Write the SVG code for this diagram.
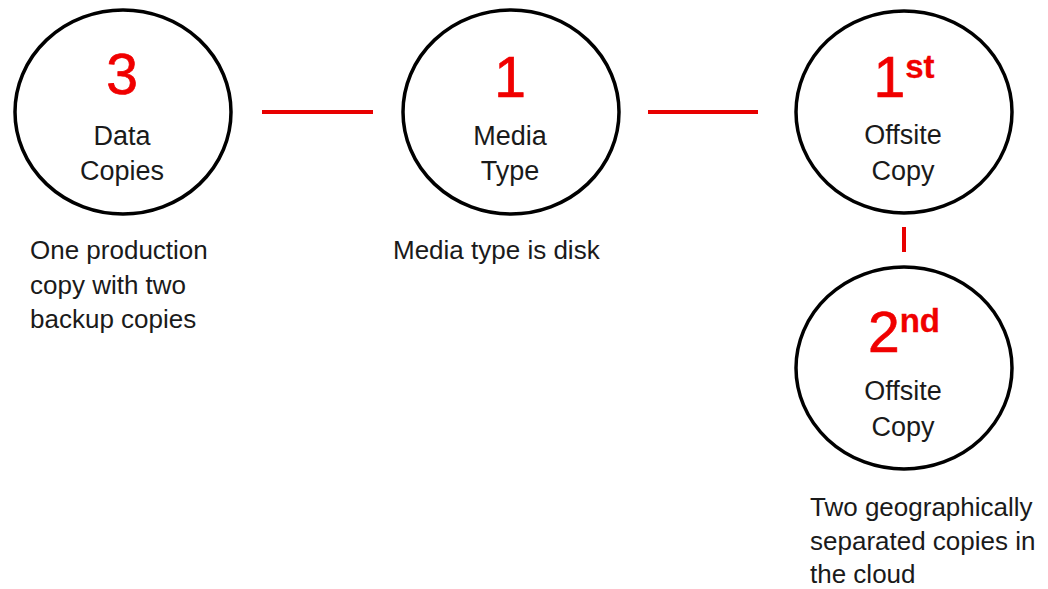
<svg xmlns="http://www.w3.org/2000/svg" width="1048" height="589" viewBox="0 0 1048 589">
<style>
.ring{fill:#fff;stroke:#000;stroke-width:3.5}
.num{font-family:"Liberation Sans",Arial,sans-serif;font-size:57px;fill:#f00000;stroke:#f00000;stroke-width:0.7;text-anchor:middle}
.sup{font-size:33px;font-weight:bold;stroke-width:0.3}
.lbl{font-family:"Liberation Sans",Arial,sans-serif;font-size:27px;fill:#1a1a1a;text-anchor:middle}
.desc{font-family:"Liberation Sans",Arial,sans-serif;font-size:26px;fill:#1a1a1a}
.conn{stroke:#e80000;stroke-width:4;fill:none}
</style>
<rect width="1048" height="589" fill="#fff"/>
<g id="connectors">
<line class="conn" x1="262" y1="112" x2="373" y2="112"/>
<line class="conn" x1="648" y1="112" x2="758" y2="112"/>
<line class="conn" x1="904" y1="227" x2="904" y2="252"/>
</g>
<g id="node-3-data-copies">
<ellipse class="ring" cx="123" cy="112" rx="108" ry="102"/>
<text class="num" x="122" y="94">3</text>
<text class="lbl" x="122" y="145">Data</text>
<text class="lbl" x="122" y="180">Copies</text>
</g>
<g id="node-1-media-type">
<ellipse class="ring" cx="511" cy="112" rx="108" ry="102"/>
<text class="num" x="510" y="97">1</text>
<text class="lbl" x="510" y="145">Media</text>
<text class="lbl" x="510" y="180">Type</text>
</g>
<g id="node-1st-offsite">
<ellipse class="ring" cx="904" cy="112" rx="108" ry="101"/>
<text class="num" x="904" y="97">1<tspan class="sup" dy="-19">st</tspan></text>
<text class="lbl" x="903" y="144">Offsite</text>
<text class="lbl" x="903" y="180">Copy</text>
</g>
<g id="node-2nd-offsite">
<ellipse class="ring" cx="904" cy="368" rx="108" ry="101"/>
<text class="num" x="904" y="352">2<tspan class="sup" dy="-20">nd</tspan></text>
<text class="lbl" x="903" y="400">Offsite</text>
<text class="lbl" x="903" y="436">Copy</text>
</g>
<g id="descriptions">
<text class="desc" x="30" y="259">One production</text>
<text class="desc" x="30" y="294">copy with two</text>
<text class="desc" x="30" y="328">backup copies</text>
<text class="desc" x="393" y="259">Media type is disk</text>
<text class="desc" x="810" y="516">Two geographically</text>
<text class="desc" x="810" y="550">separated copies in</text>
<text class="desc" x="810" y="583">the cloud</text>
</g>
</svg>
